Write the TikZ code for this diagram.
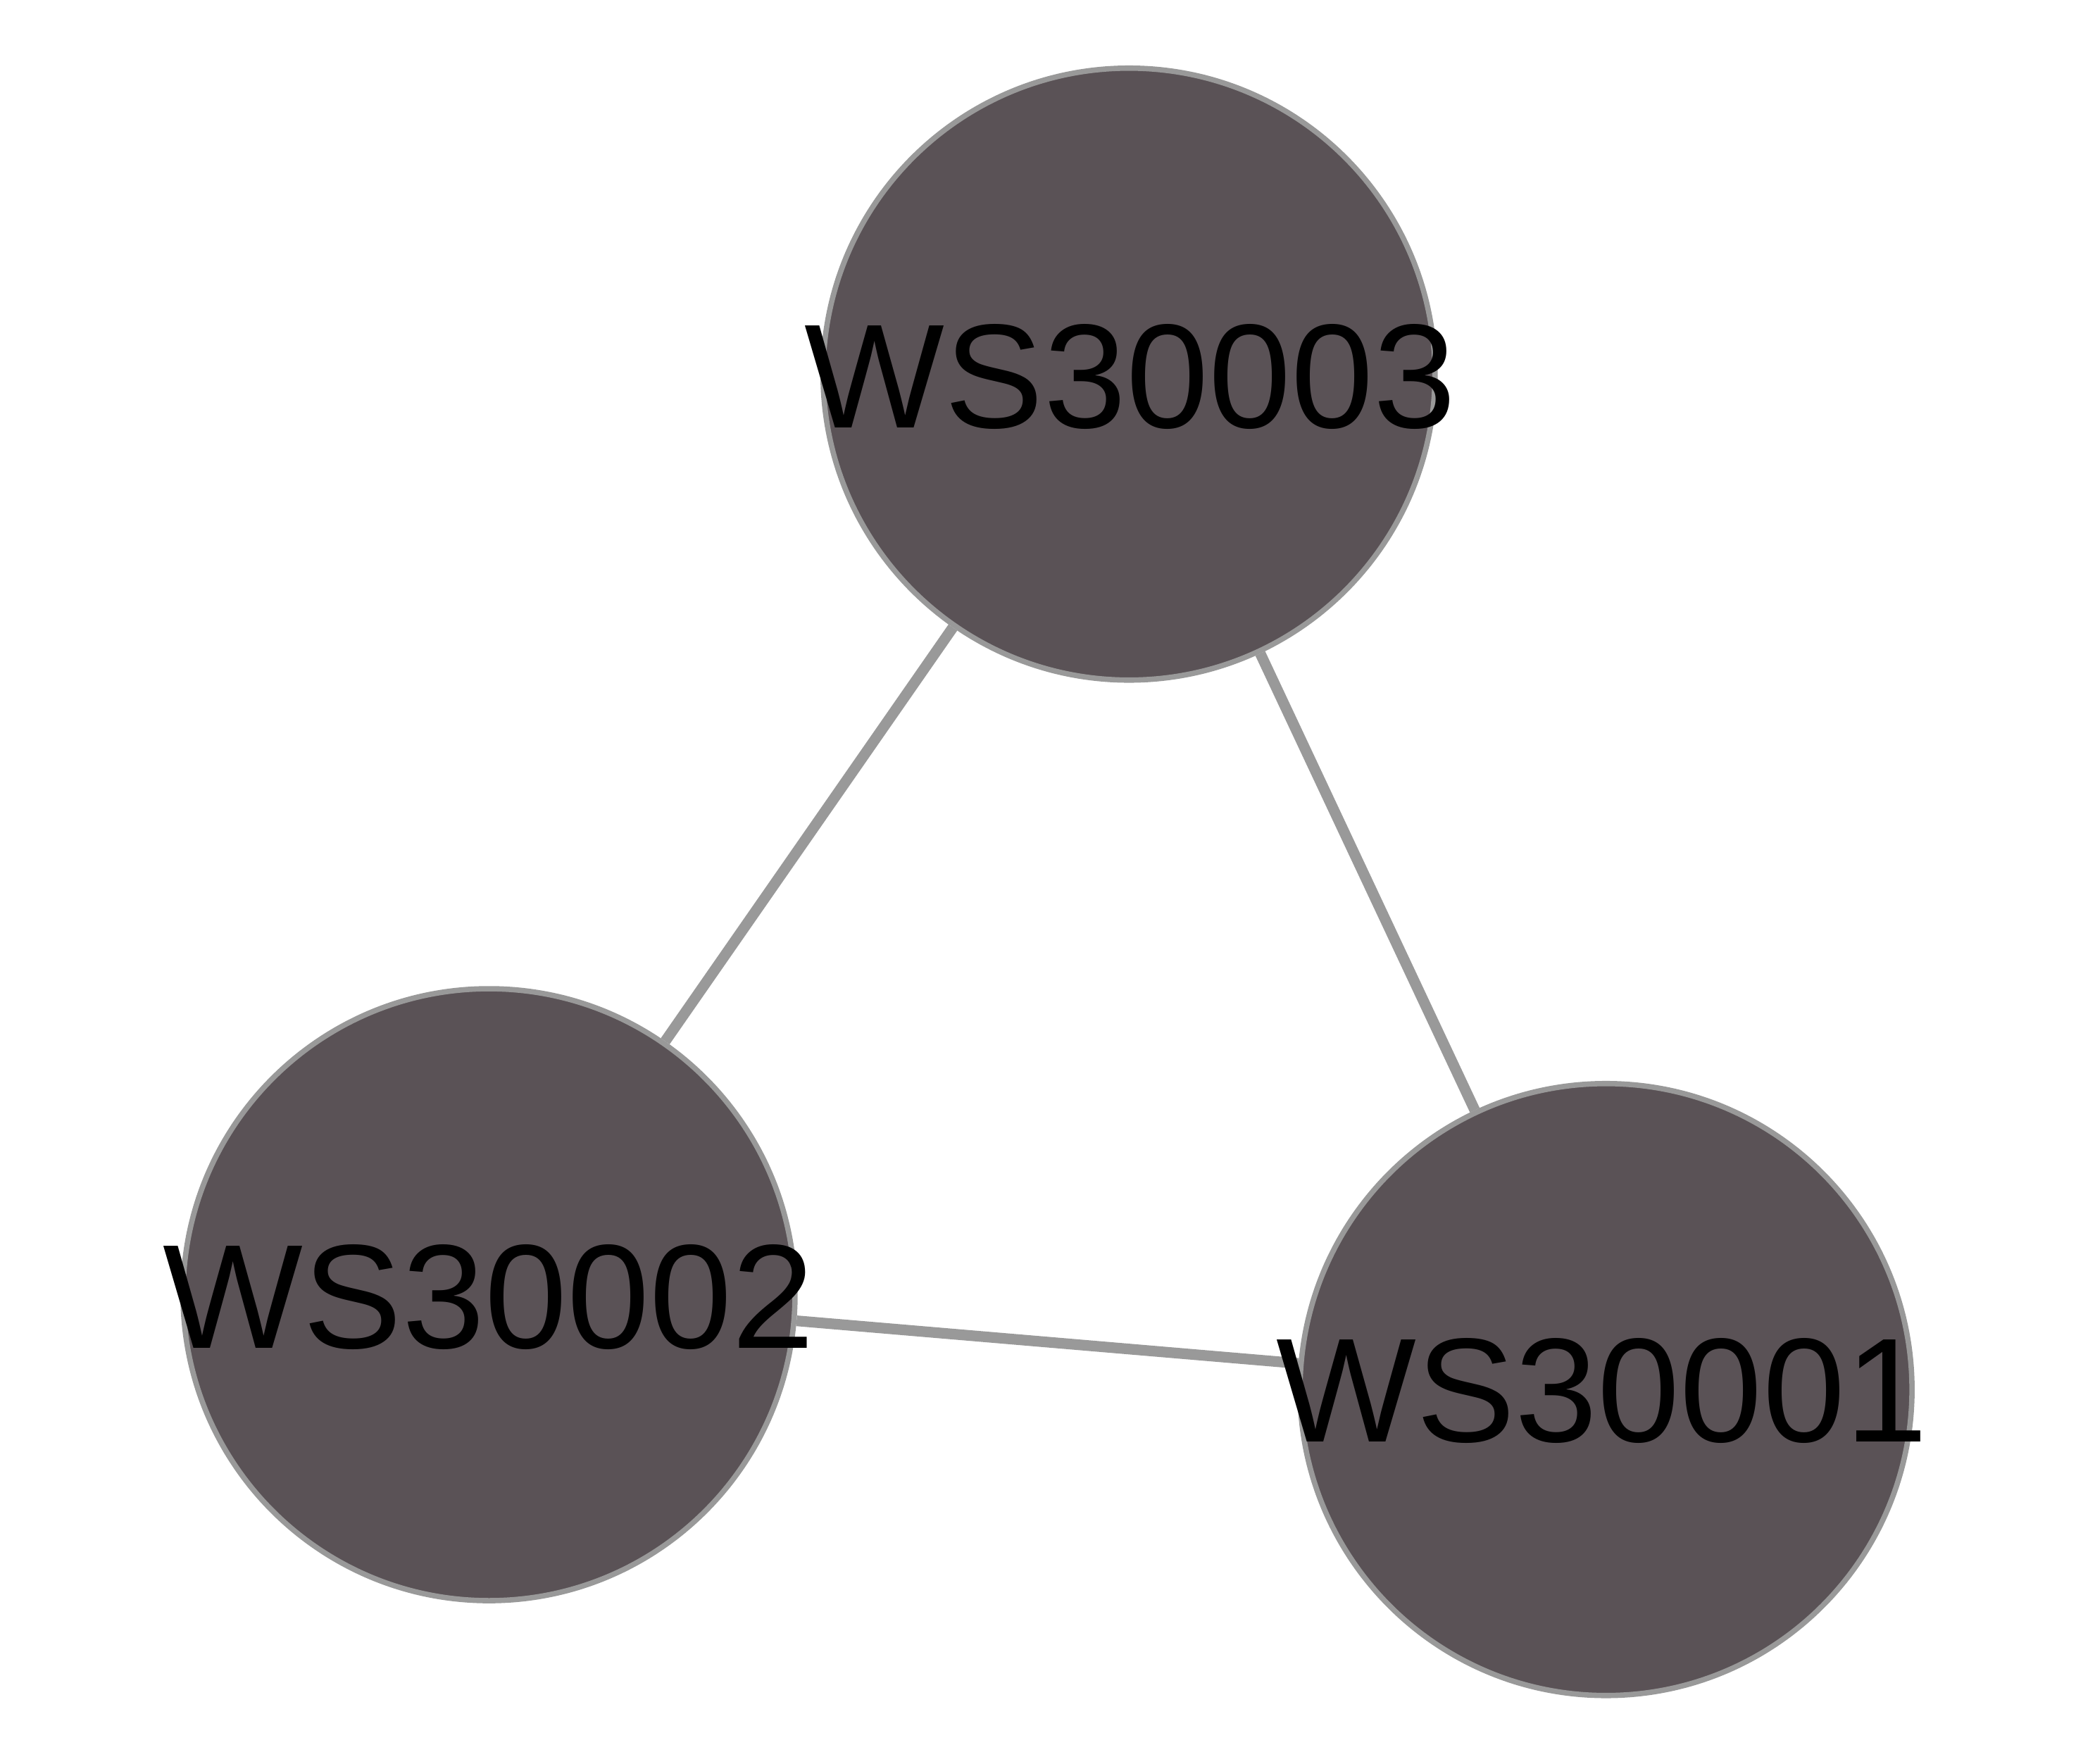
\documentclass[tikz,border=0pt]{standalone}
\usepackage{fontspec}
\setmainfont{Liberation Sans}
\usetikzlibrary{backgrounds}
\definecolor{nodefill}{HTML}{5A5256}
\definecolor{edgegray}{HTML}{999999}
\begin{document}
\begin{tikzpicture}[x=0.2pt,y=-0.2pt,
  vert/.style={circle,fill=nodefill,draw=edgegray,line width=0.8pt,minimum size=91.6pt,inner sep=0pt},
  lbl/.style={font=\fontsize{22.2}{26}\selectfont,text=black,inner sep=0pt},
  edgeline/.style={draw=edgegray,line width=1.6pt}]
\useasboundingbox (0,0) rectangle (1568,1320);
\node[vert] (n3) at (845,280) {};
\node[vert] (n2) at (366,969) {};
\node[vert] (n1) at (1202,1040) {};
\begin{pgfonlayer}{background}
\draw[edgeline] (n3) -- (n2);
\draw[edgeline] (n3) -- (n1);
\draw[edgeline] (n2) -- (n1);
\end{pgfonlayer}
\node[lbl] (t3) at (846,282) {WS30003};
\node[lbl] (t2) at (366,971) {WS30002};
\node[lbl] (t1) at (1199,1041) {WS30001};
\end{tikzpicture}
\end{document}
